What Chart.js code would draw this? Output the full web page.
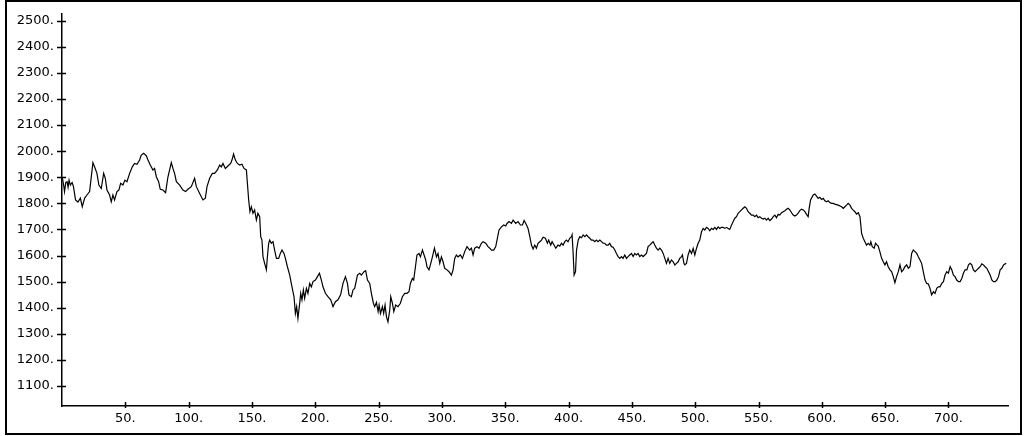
<!DOCTYPE html>
<html>
<head>
<meta charset="utf-8">
<script src="https://cdn.jsdelivr.net/npm/chart.js@4/dist/chart.umd.min.js"></script>
<style>
  html, body { margin: 0; padding: 0; background: #fff; }
  #wrap { position: relative; width: 1024px; height: 436px; overflow: hidden; background: #fff; }
  #c { position: absolute; left: 0; top: 0; }
  #frame { position: absolute; left: 5px; top: 0; width: 1017px; height: 435px; box-sizing: border-box; border: 2px solid #000; pointer-events: none; }
</style>
</head>
<body>
<div id="wrap">
  <canvas id="c" width="1024" height="436"></canvas>
  <div id="frame"></div>
</div>
<script>
// ---- data ----
const xs = [
0.2,1.3,2,3,4,4.8,5.6,6.6,8,9,10.7,12.6,14.5,16,17.9,19.7,21.8,24.4,25.7,27.6,29.1,31,32.9,34.2,35.5,37.6,38.9,40.2,41.5,43.4,44.9,46.3,48.1,49.7,51.3,53.4,55.5,57.3,59.2,61.3,62.6,64.5,66.6,67.9,69.7,71.8,73.1,74.5,76.3,77.6,79.7,81.8,83.6,86.3,87.6,88.9,90.3,92.9,95.5,97.6,99.4,102.1,104.7,106.1,108.7,111.3,113.2,114.5,116.6,118.7,120.5,122.7,124.5,125.8,127.1,129,131,133.2,134.2,135.5,136.9,138.5,140.3,142.1,143.7,145.6,146.4,147.4,148.4,149.5,150.8,152.1,153.5,154.7,156.1,156.9,157.9,158.7,160,161.4,162.2,163.2,164,165.3,166.6,167.9,169.3,171.1,172.4,173.7,175.3,176.4,178,179.8,181.6,183.2,184.3,185.3,186.3,187.7,188.5,189.5,190.6,191.6,193,194.2,195.6,196.9,198.2,200.1,201.7,203.3,204.8,206.1,208,210,212.2,214,215.9,217.9,220,221.9,223.8,225.4,226.6,228.5,229.8,231.1,233.3,235.1,236.4,238.5,239.8,241.2,243,244.3,245.9,246.9,248.3,249.6,250.4,251.5,253,254,255.1,256.2,257.4,258.8,259.6,260.9,262,263.5,265.3,267.2,268.8,270.6,272.4,274,275.1,276.7,277.7,279.1,280.3,281.9,283,284.6,285.9,287.2,288.2,289.8,291.2,292.5,294.1,295.7,296.9,298.3,299.6,300.9,302.2,304,305.6,307.5,308.8,310.1,311.4,312.7,314.6,316.2,318,319.8,321.9,323.3,324.6,325.9,327.7,329.3,331.2,332.5,334.6,336.4,337.8,339.1,340.9,342.5,343.5,345.1,347,348.8,350.4,351.4,353,354.9,356.2,358.3,360.1,362,363.6,364.9,366.8,368,369.4,370.7,372,373.3,374.6,375.9,377.3,378.6,379.9,381.7,383.3,384.3,385.9,387,388.5,389.9,391.7,393.1,394.4,395.7,397,398.3,399.6,400.9,402.3,402.8,403.6,404.4,405.5,406.3,407.6,408.9,410.2,411.5,412.8,414.2,415.4,416.8,418.1,419.4,420.7,422,423.3,424.7,426,427.3,428.6,429.9,431.2,432.5,433.9,435.2,436.5,437.8,439.1,440.5,441.8,443,444.4,445.7,447,448.3,449.7,451,452.3,453.6,454.9,456.2,457.6,458.9,460.2,461.5,462.8,464.1,465.5,466.8,468.1,469.4,470.7,472,473.4,474.7,476,477.3,478.6,479.9,481.3,482.6,483.9,485.2,486.5,487.8,489.2,489.9,491.1,491.8,493.1,494.4,495.7,497.1,498.4,499.7,501,502.3,503.6,505,506.3,507.6,508.9,510.2,511.5,512.9,514.2,515.5,516.8,518.1,519.4,520.8,522.1,523.4,524.7,526,527.3,528.7,530,531.3,532.6,533.9,535.2,536.6,537.9,539.2,540.5,541.8,543.1,544.5,545.8,547.1,548.4,549.7,551,552.4,553.7,555,556.3,557.6,558.9,560.3,561.6,562.9,564.2,565.5,566.8,568.2,569.5,570.8,572.1,573.4,574.7,576.1,577.4,578.7,580,581.3,582.6,584,585.3,586.6,587.9,589.2,590,591.1,592.2,593.2,594.5,595.8,597.1,598.4,599.8,601.1,602.4,603.7,605,606.3,607.7,609,610.3,612.9,615.6,616.9,618.2,619.5,620.8,622.2,623.5,624.8,626.1,627.4,628.8,630.1,630.9,631.4,632.7,634,635.3,636.6,638,638.7,639.8,641.3,642.4,643.7,644.5,645.8,647.2,648.5,649.8,651.1,652.4,653.8,655.1,656.4,657.7,659,660.4,661.7,663,664.3,665.6,667,668.3,669.6,670.9,672.2,673.6,674.9,676.2,677.5,678.8,680.1,681.5,682.8,684.1,685.4,686.7,688.1,689.4,690.7,692,693.3,694.7,696,697.3,698.6,699.9,701.3,702.6,703.9,705.2,706.5,707.9,709.2,710.5,711.8,713.1,714.5,715.8,717.1,718.4,719.7,721,722.4,723.7,725,726.3,727.6,728.9,730.3,731.6,732.9,734.2,735.5,736.9,738.2,739.5,740.8,742.1,743.5,744.8,745.6
];
const ys = [
1900,1870,1845,1880,1883,1862,1889,1870,1880,1865,1813,1805,1820,1787,1820,1832,1845,1956,1940,1915,1870,1857,1915,1896,1851,1832,1806,1832,1813,1845,1851,1877,1870,1889,1883,1915,1940,1953,1950,1966,1985,1992,1982,1966,1947,1928,1934,1902,1883,1854,1851,1841,1900,1956,1934,1915,1883,1870,1851,1845,1854,1864,1896,1864,1838,1813,1820,1864,1896,1915,1915,1928,1947,1940,1953,1934,1943,1953,1966,1989,1966,1953,1947,1950,1934,1928,1877,1813,1768,1787,1762,1775,1736,1762,1749,1672,1659,1596,1570,1545,1596,1647,1659,1647,1653,1621,1589,1589,1608,1621,1608,1589,1557,1525,1480,1442,1378,1404,1359,1417,1455,1430,1468,1436,1474,1455,1493,1480,1500,1506,1519,1532,1506,1480,1455,1442,1430,1404,1423,1430,1449,1493,1519,1493,1449,1442,1468,1474,1525,1532,1525,1538,1542,1506,1493,1455,1417,1404,1420,1385,1410,1378,1404,1378,1410,1365,1346,1391,1442,1417,1385,1410,1404,1417,1442,1455,1455,1461,1493,1512,1506,1557,1602,1608,1595,1621,1602,1583,1557,1545,1570,1595,1628,1595,1608,1570,1595,1576,1551,1545,1538,1525,1545,1589,1602,1595,1602,1589,1615,1634,1621,1628,1602,1628,1634,1628,1647,1653,1647,1634,1628,1621,1621,1634,1659,1698,1710,1717,1713,1723,1730,1723,1736,1723,1730,1717,1717,1734,1717,1704,1672,1640,1625,1640,1628,1647,1653,1659,1670,1666,1647,1659,1640,1653,1640,1628,1640,1636,1647,1640,1653,1659,1653,1666,1672,1679,1610,1525,1538,1621,1659,1672,1668,1679,1672,1679,1672,1666,1659,1659,1653,1659,1653,1659,1653,1647,1647,1640,1640,1647,1634,1632,1621,1608,1596,1589,1596,1589,1602,1589,1596,1602,1608,1596,1608,1602,1608,1596,1602,1596,1602,1608,1634,1640,1647,1653,1640,1628,1621,1628,1621,1608,1589,1570,1589,1570,1583,1576,1564,1570,1576,1589,1596,1602,1570,1564,1570,1602,1621,1608,1627,1602,1627,1647,1659,1691,1704,1698,1708,1704,1695,1704,1700,1708,1700,1710,1704,1708,1708,1704,1708,1704,1700,1717,1730,1743,1749,1762,1768,1775,1781,1787,1781,1768,1762,1755,1755,1749,1755,1745,1749,1743,1740,1743,1736,1743,1734,1740,1749,1755,1745,1758,1755,1764,1768,1772,1777,1781,1775,1764,1755,1751,1755,1762,1772,1778,1775,1768,1758,1749,1781,1813,1823,1832,1836,1828,1819,1823,1815,1819,1810,1806,1810,1803,1800,1800,1797,1793,1787,1781,1787,1793,1800,1793,1781,1774,1768,1759,1764,1749,1711,1685,1666,1653,1640,1647,1640,1653,1634,1628,1647,1640,1636,1615,1589,1576,1564,1576,1557,1545,1538,1519,1496,1519,1538,1564,1538,1545,1557,1564,1551,1557,1608,1621,1615,1608,1595,1583,1570,1538,1506,1493,1491,1474,1449,1461,1455,1474,1480,1480,1493,1500,1525,1538,1532,1557,1545,1525,1519,1506,1500,1500,1512,1532,1545,1545,1564,1570,1564,1545,1538,1545,1551,1557,1568,1564,1557,1551,1538,1525,1506,1500,1500,1506,1519,1545,1551,1564,1568,1570
];
const yTickValues = [1100,1200,1300,1400,1500,1600,1700,1800,1900,2000,2100,2200,2300,2400,2500];
const xTickValues = [50,100,150,200,250,300,350,400,450,500,550,600,650,700];
const xMin = 0, xMax = 747;
const yMin = 1023, yMax = 2526;

const points = xs.map((x, i) => ({ x: x, y: ys[i] }));

const crossTicks = {
  id: 'crossTicks',
  afterDraw(chart) {
    const { ctx, scales: { x, y }, chartArea } = chart;
    ctx.save();
    ctx.strokeStyle = '#000';
    ctx.lineWidth = 1.5;
    ctx.beginPath();
    for (const v of yTickValues) {
      const py = Math.round(y.getPixelForValue(v)) + 0.5;
      ctx.moveTo(chartArea.left - 5, py);
      ctx.lineTo(chartArea.left + 4, py);
    }
    for (const v of xTickValues) {
      const px = Math.round(x.getPixelForValue(v)) + 0.5;
      ctx.moveTo(px, chartArea.bottom - 4);
      ctx.lineTo(px, chartArea.bottom + 2);
    }
    ctx.stroke();
    ctx.restore();
  }
};

new Chart(document.getElementById('c'), {
  type: 'line',
  data: {
    datasets: [{
      data: points,
      borderColor: '#000',
      borderWidth: 1.2,
      pointRadius: 0,
      tension: 0,
      fill: false
    }]
  },
  options: {
    responsive: false,
    animation: false,
    devicePixelRatio: 1,
    parsing: false,
    layout: { padding: { top: 14, right: 16, left: 0, bottom: 0 } },
    plugins: { legend: { display: false }, tooltip: { enabled: false } },
    scales: {
      x: {
        type: 'linear',
        min: xMin, max: xMax,
        grid: { display: false, drawTicks: false },
        border: { display: true, color: '#000', width: 1.5 },
        afterBuildTicks: (s) => { s.ticks = xTickValues.map(v => ({ value: v })); },
        afterFit: (s) => { s.height = 30; s.paddingLeft = 0; s.paddingRight = 0; },
        ticks: {
          color: '#000',
          padding: 5,
          maxRotation: 0,
          autoSkip: false,
          font: { family: 'DejaVu Sans', size: 13 },
          callback: (v) => v + '.'
        }
      },
      y: {
        type: 'linear',
        min: yMin, max: yMax,
        grid: { display: false, drawTicks: false },
        border: { display: true, color: '#000', width: 1.5 },
        afterBuildTicks: (s) => { s.ticks = yTickValues.map(v => ({ value: v })); },
        afterFit: (s) => { s.width = 62; s.paddingTop = 0; s.paddingBottom = 0; },
        ticks: {
          color: '#000',
          padding: 8,
          autoSkip: false,
          font: { family: 'DejaVu Sans', size: 13 },
          callback: (v) => v + '.'
        }
      }
    }
  },
  plugins: [crossTicks]
});
</script>
</body>
</html>
